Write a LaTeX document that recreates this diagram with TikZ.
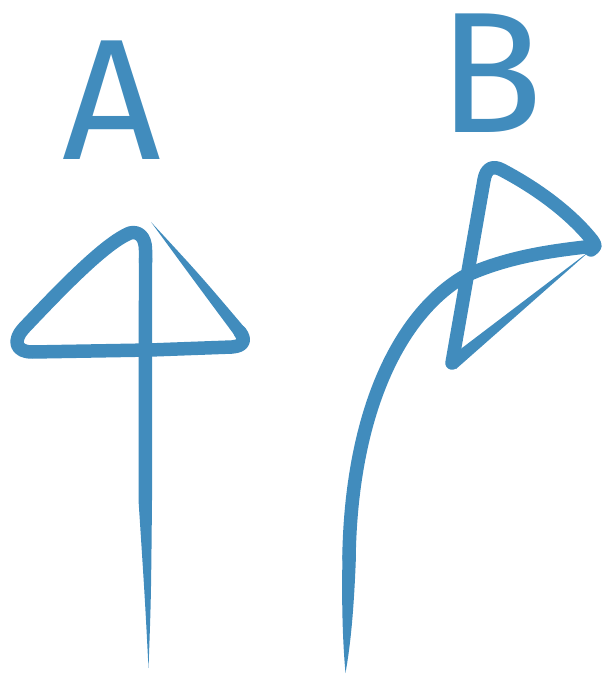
\documentclass[tikz,border=0pt]{standalone}
\usepackage{fontspec}
\newfontfamily\sketchfont{Fira Sans}
\definecolor{sketchblue}{HTML}{418CBD}

\begin{document}
\begin{tikzpicture}[x=0.02cm, y=-0.02cm,
    stroke/.style={draw=sketchblue, line width=0.27cm, line cap=round, line join=round},
    taper/.style={fill=sketchblue, draw=none},
    letter/.style={text=sketchblue, font=\sketchfont\fontsize{98}{98}\selectfont, inner sep=0pt, anchor=base}]
  \useasboundingbox (0,0) rectangle (602,675);
  \node[letter] (labelA) at (112,160) {A};
  \node[letter] (labelB) at (491,133) {B};
  % arrow A
  \fill[taper] (138.8,258) -- (152.2,258) -- (152,500) .. controls (151,600) .. (148.5,668) .. controls (145,600) .. (138.5,500) -- cycle;
  \draw[stroke] (145.5,262) -- (145.5,250) .. controls (145.5,236) and (138,231) .. (130,233) .. controls (105,243) and (60,290) .. (24,328) .. controls (12,341) and (16,352) .. (32,352) -- (150,350) -- (232,347) .. controls (244,346) and (246,340) .. (240,332);
  \fill[taper] (244.5,327.5) .. controls (200,275) .. (151,222) .. controls (195,282) .. (235.5,336.5) -- cycle;
  % arrow B
  \fill[taper] (342.5,555) -- (356,555) .. controls (354,610) and (350.5,645) .. (345.5,673) .. controls (342.5,640) and (341.5,600) .. (342.5,555) -- cycle;
  \draw[stroke] (349,558) .. controls (351,420) and (395,318) .. (463,277) .. controls (510,255) and (560,250) .. (594,246);
  \draw[stroke] (452,363) -- (484,180) .. controls (486,168) and (493,165) .. (502,170) .. controls (540,190) and (572,215) .. (592,240) .. controls (596,246) .. (591,250);
  \fill[taper] (591,250) -- (456,369) -- (447.5,359) -- cycle;
\end{tikzpicture}
\end{document}
